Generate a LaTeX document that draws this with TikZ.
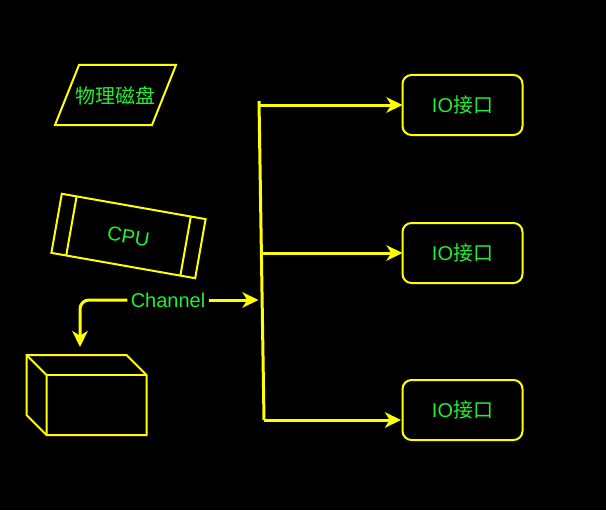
\documentclass[tikz,border=0pt]{standalone}
\usepackage{fontspec}
\setmainfont{Liberation Sans}
\newfontfamily\cjk{Noto Sans CJK SC}
\usepackage{tikz}
\usetikzlibrary{arrows.meta,calc}
\definecolor{line_yellow}{HTML}{FFFF00}
\definecolor{text_green}{HTML}{22EE33}

\begin{document}
\begin{tikzpicture}[x=0.75pt,y=-0.75pt,
		label_font/.style={text=text_green,font=\fontsize{15}{18}\selectfont,text height=12.7pt,text depth=1.5pt},
		io_style/.style={rectangle,draw=line_yellow,line width=1.5pt,rounded corners=6.75pt,minimum width=90pt,minimum height=45pt,outer sep=0pt,label_font},
		disk_style/.style={rectangle,inner sep=0pt,outer sep=0pt,label_font},
		cpu_style/.style={rectangle,draw=line_yellow,line width=1.5pt,minimum width=109.5pt,minimum height=45pt,outer sep=0pt,label_font},
		channel_style/.style={rectangle,inner xsep=2.6pt,inner ysep=1pt,outer sep=0pt,label_font},
		thin_style/.style={draw=line_yellow,line width=1.5pt,line join=miter},
		edge_style/.style={draw=line_yellow,line width=2.25pt},
		arrow_style/.style={edge_style,-{Stealth[length=12pt,width=11.5pt,inset=3.5pt]}}]

		\useasboundingbox (0,0) rectangle (606,510);
		\fill[black] (0,0) rectangle (606,510);

		\node[disk_style] (disk) at (115.5,96.5)  {\cjk 物理磁盘};
		\node[cpu_style,rotate=-10] (cpu) at (128.5,236)  {CPU};
		\node[channel_style] (channel) at (168,300)  {Channel};
		\node[io_style] (io1) at (462.5,105)  {IO{\cjk 接口}};
		\node[io_style] (io2) at (462.5,253)  {IO{\cjk 接口}};
		\node[io_style] (io3) at (462.5,410)  {IO{\cjk 接口}};

		\coordinate (bus_top) at (259,101);
		\coordinate (bus_bot) at (264,420);
		\coordinate (b1) at (259.6,105);
		\coordinate (b2) at (261.3,253);
		\coordinate (b3) at (264,420);
		\coordinate (b0) at (258.5,300);
		\coordinate (turn) at (80,300);
		\coordinate (box_in) at (80,347);
		\coordinate (e3) at (401,420);

		% outline of the disk
		\draw[thin_style] (55,125) -- (79,65) -- (176,65) -- (152,125) -- cycle;

		% inner bars of the cpu
		\draw[thin_style] ($(cpu.north west)!0.103!(cpu.north east)$) -- ($(cpu.south west)!0.103!(cpu.south east)$);
		\draw[thin_style] ($(cpu.north east)!0.103!(cpu.north west)$) -- ($(cpu.south east)!0.103!(cpu.south west)$);

		% box
		\draw[thin_style] (26.5,355) -- (126.5,355) -- (146.5,375) -- (146.5,435) -- (46.5,435) -- (26.5,415) -- cycle;
		\draw[thin_style] (26.5,355) -- (46.5,375) -- (46.5,435);
		\draw[thin_style] (46.5,375) -- (146.5,375);

		\draw[edge_style]  (bus_top) -- (bus_bot);
		\draw[arrow_style]  (b1) -- (io1.west);
		\draw[arrow_style]  (b2) -- (io2.west);
		\draw[arrow_style]  (b3) -- (e3);
		\draw[arrow_style]  (channel.east) -- (b0);
		\draw[arrow_style,rounded corners=6.75pt]  (channel.west) -- (turn) -- (box_in);
		\end{tikzpicture}
\end{document}
